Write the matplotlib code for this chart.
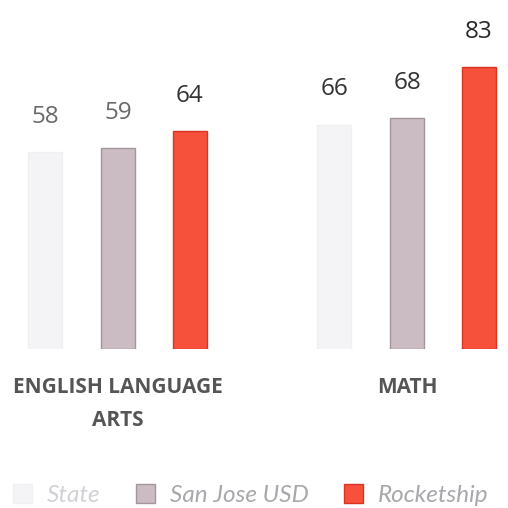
import matplotlib
matplotlib.use("Agg")
import matplotlib.pyplot as plt
from matplotlib.patches import Patch
import numpy as np

categories = ["ENGLISH LANGUAGE\nARTS", "MATH"]
series = ["State", "San Jose USD", "Rocketship"]
state = [58, 66]
san_jose = [59, 68]
rocketship = [64, 83]

face_colors = ["#f4f4f6", "#cbbcc3", "#f6513b"]
edge_colors = ["#f0f0f2", "#a3959c", "#d93423"]
label_colors = [["#6a6a6a", "#333333"], ["#6a6a6a", "#333333"], ["#333333", "#2a2a2a"]]
legend_text_colors = ["#d2d2d6", "#a8a8ac", "#a8a8ac"]

plt.rcParams["font.family"] = ["Open Sans", "DejaVu Sans"]

fig = plt.figure(figsize=(5.08, 5.08), dpi=100)
ax = fig.add_axes([0.0, 0.313, 1.0, 0.669])

x = np.arange(len(categories))
offsets = [-0.252, 0.0, 0.248]
width = 0.118

for i, (vals, off) in enumerate(zip([state, san_jose, rocketship], offsets)):
    bars = ax.bar(x + off, vals, width=width, color=face_colors[i],
                  edgecolor=edge_colors[i], linewidth=1.0)
    for j, (b, v) in enumerate(zip(bars, vals)):
        ax.text(b.get_x() + b.get_width() / 2, v + 8.6, str(v),
                ha="center", va="baseline", fontsize=17.5,
                color=label_colors[i][j])

ax.set_xlim(-0.408, 1.349)
ax.set_ylim(0, 100)
ax.set_xticks(x, categories)
ax.tick_params(axis="x", length=0, pad=20)
for lbl in ax.get_xticklabels():
    lbl.set_fontsize(15)
    lbl.set_fontweight("bold")
    lbl.set_color("#555555")
    lbl.set_linespacing(1.75)
    lbl.set_verticalalignment("top")
ax.set_yticks([])
for s in ax.spines.values():
    s.set_visible(False)

handles = [Patch(facecolor=face_colors[i], edgecolor=edge_colors[i], label=series[i])
           for i in range(3)]
leg = fig.legend(handles=handles, loc="center left", bbox_to_anchor=(0.025, 0.025),
                 ncol=3, frameon=False, handlelength=0.8, handleheight=0.8,
                 handletextpad=0.6, columnspacing=1.45, borderpad=0, borderaxespad=0,
                 prop={"family": ["Lato", "DejaVu Sans"], "style": "italic", "size": 17.5})
for t, c in zip(leg.get_texts(), legend_text_colors):
    t.set_color(c)

fig.savefig("out.png", dpi=100, facecolor="white")
